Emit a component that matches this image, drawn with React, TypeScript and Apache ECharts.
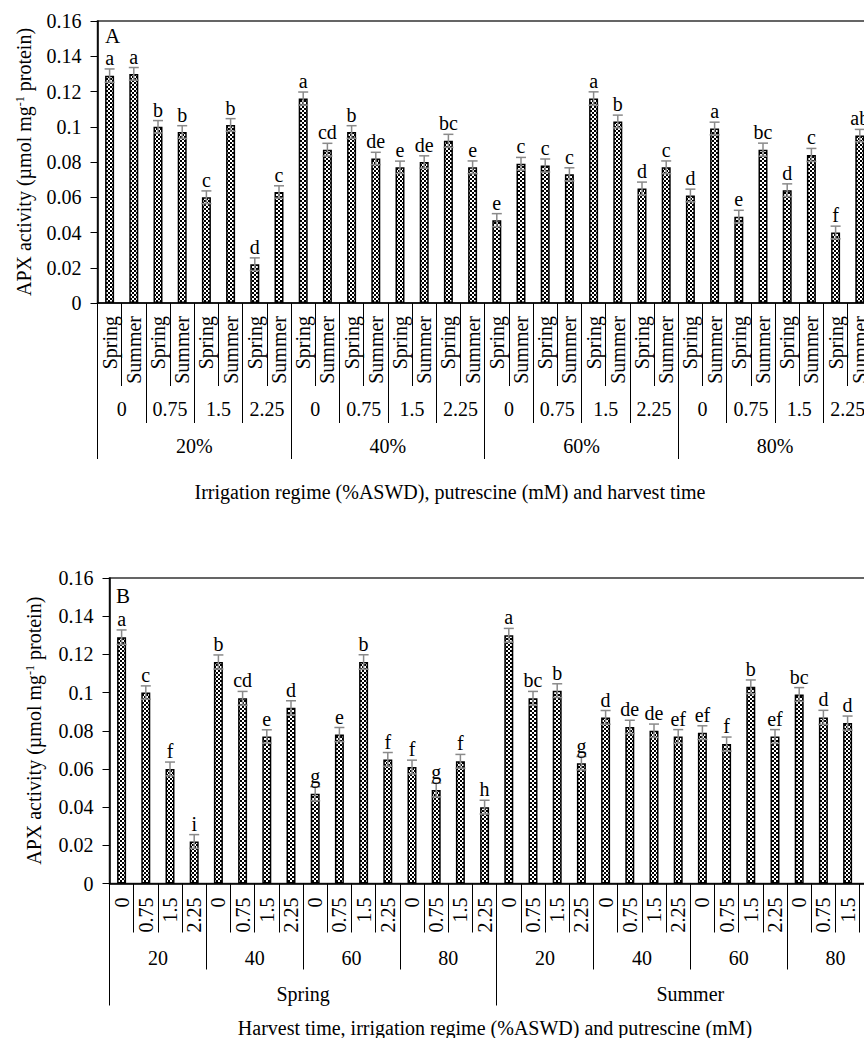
import { useEffect, useRef } from "react";
import * as echarts from "echarts";

const FONT = "Liberation Serif";

const seasons = ["Spring", "Summer"];
const irrigationA = ["20%", "40%", "60%", "80%"];
const irrigationB = ["20", "40", "60", "80"];
const putrescine = ["0", "0.75", "1.5", "2.25"];

// APX activity (µmol mg-1 protein); order: irrigation 20,40,60,80 × putrescine 0,0.75,1.5,2.25
const springAPX = [0.129, 0.1, 0.06, 0.022, 0.116, 0.097, 0.077, 0.092, 0.047, 0.078, 0.116, 0.065, 0.061, 0.049, 0.064, 0.04];
const summerAPX = [0.13, 0.097, 0.101, 0.063, 0.087, 0.082, 0.08, 0.077, 0.079, 0.073, 0.103, 0.077, 0.099, 0.087, 0.084, 0.095];
const springSE = [0.0038, 0.0035, 0.0036, 0.0036, 0.0037, 0.0036, 0.0035, 0.0037, 0.0037, 0.0037, 0.0038, 0.0036, 0.0036, 0.0036, 0.0036, 0.0036];
const summerSE = [0.0036, 0.0036, 0.0036, 0.0035, 0.0036, 0.0035, 0.0035, 0.0036, 0.0036, 0.0037, 0.0036, 0.0036, 0.0036, 0.0037, 0.0037, 0.0035];

const lettersA = ["a", "a", "b", "b", "c", "b", "d", "c", "a", "cd", "b", "de", "e", "de", "bc", "e", "e", "c", "c", "c", "a", "b", "d", "c", "d", "a", "e", "bc", "d", "c", "f", "ab"];
const lettersB = ["a", "c", "f", "i", "b", "cd", "e", "d", "g", "e", "b", "f", "f", "g", "f", "h", "a", "bc", "b", "g", "d", "de", "de", "ef", "ef", "f", "b", "ef", "bc", "d", "d", "c"];

const titleA = "Irrigation regime (%ASWD), putrescine (mM) and harvest time";
const titleB = "Harvest time, irrigation regime (%ASWD) and putrescine (mM)";
const yName = "APX activity (µmol mg{s|-1} protein)";

// Panel A: pairs Spring/Summer within each irrigation × putrescine
const aValues: number[] = [];
const aErr: number[] = [];
const aSeason: string[] = [];
springAPX.forEach((v, k) => {
  aValues.push(v, summerAPX[k]);
  aErr.push(springSE[k], summerSE[k]);
  aSeason.push(seasons[0], seasons[1]);
});
const aPut = irrigationA.flatMap(() => putrescine);

// Panel B: Spring block then Summer block
const bValues = [...springAPX, ...summerAPX];
const bErr = [...springSE, ...summerSE];
const bPut = seasons.flatMap(() => irrigationB.flatMap(() => putrescine));
const bIrr = seasons.flatMap(() => irrigationB);

const BAND = 24.2;

function levelAxis(grid: number, data: string[], tickLen: number, margin: number, rotate: number, showLine: boolean) {
  return {
    type: "category",
    gridIndex: grid,
    position: "bottom",
    data,
    boundaryGap: true,
    axisLine: { show: showLine, onZero: false, lineStyle: { color: "#000", width: 1.5 } },
    axisTick: { show: true, interval: 0, length: tickLen, lineStyle: { color: "#000", width: 1 } },
    axisLabel: { interval: 0, rotate, margin, fontSize: 20, fontFamily: FONT, color: "#000" },
    splitLine: { show: false },
  };
}

function yAxisCfg(grid: number, gap: number) {
  return {
    type: "value",
    gridIndex: grid,
    min: 0,
    max: 0.16,
    interval: 0.02,
    axisLine: { show: true, lineStyle: { color: "#000", width: 1.5 } },
    axisTick: { show: true, length: 7, lineStyle: { color: "#000" } },
    axisLabel: { fontSize: 20, fontFamily: FONT, color: "#000", margin: 16 },
    splitLine: { show: false },
    name: yName,
    nameLocation: "middle",
    nameRotate: 90,
    nameGap: gap,
    nameTextStyle: {
      fontSize: 20,
      fontFamily: FONT,
      color: "#000",
      rich: { s: { fontSize: 12, fontFamily: FONT, color: "#000", verticalAlign: "top" } },
    },
  };
}

function errSeries(xIdx: number, yIdx: number, vals: number[], errs: number[], letters: string[]) {
  return {
    type: "custom",
    xAxisIndex: xIdx,
    yAxisIndex: yIdx,
    z: 5,
    data: vals.map((v, i) => [i, v, errs[i]]),
    encode: { x: 0, y: 1 },
    renderItem: (params: any, api: any) => {
      const i = api.value(0);
      const v = api.value(1);
      const e = api.value(2);
      const t = api.coord([i, v + e]);
      const b = api.coord([i, v - e]);
      const x = t[0];
      const st = { stroke: "#8a8a8a", lineWidth: 1.5 };
      return {
        type: "group",
        children: [
          { type: "line", shape: { x1: x, y1: t[1], x2: x, y2: b[1] }, style: st },
          { type: "line", shape: { x1: x - 5, y1: t[1], x2: x + 5, y2: t[1] }, style: st },
          { type: "line", shape: { x1: x - 5, y1: b[1], x2: x + 5, y2: b[1] }, style: st },
          {
            type: "text",
            x,
            y: t[1] - 1,
            style: {
              text: letters[params.dataIndex],
              textAlign: "center",
              textVerticalAlign: "bottom",
              font: `20px "${FONT}"`,
              fill: "#000",
            },
          },
        ],
      };
    },
  };
}

export default function App() {
  const ref = useRef<HTMLDivElement>(null);
  useEffect(() => {
    if (!ref.current) return;
    const chart = echarts.init(ref.current, null, { renderer: "svg" });
    const c = document.createElement("canvas");
    c.width = 4;
    c.height = 4;
    const ctx = c.getContext("2d")!;
    ctx.fillStyle = "#fff";
    ctx.fillRect(0, 0, 4, 4);
    ctx.fillStyle = "#000";
    ctx.fillRect(0, 0, 2, 2);
    ctx.fillRect(2, 2, 2, 2);
    const pattern: any = { image: c, repeat: "repeat", imageWidth: 4, imageHeight: 4 };

    const barStyle = { color: pattern, borderColor: "#000", borderWidth: 1.5 };

    const option: any = {
      animation: false,
      textStyle: { fontFamily: FONT },
      grid: [
        { left: 97.5, top: 21, width: BAND * 32, height: 282, show: true, borderColor: "#333", borderWidth: 1.5 },
        { left: 109.5, top: 578, width: BAND * 32, height: 305.5, show: true, borderColor: "#333", borderWidth: 1.5 },
      ],
      xAxis: [
        levelAxis(0, aSeason, 83, 13, 90, true),
        levelAxis(0, aPut, 120, 96, 0, false),
        levelAxis(0, irrigationA, 156, 133, 0, false),
        levelAxis(1, bPut, 49, 14, 90, true),
        levelAxis(1, bIrr, 86, 64, 0, false),
        levelAxis(1, seasons, 122, 100, 0, false),
      ],
      yAxis: [yAxisCfg(0, 64), yAxisCfg(1, 66)],
      series: [
        { type: "bar", xAxisIndex: 0, yAxisIndex: 0, data: aValues, barWidth: 9, itemStyle: barStyle, z: 2 },
        errSeries(0, 0, aValues, aErr, lettersA),
        { type: "bar", xAxisIndex: 3, yAxisIndex: 1, data: bValues, barWidth: 9, itemStyle: barStyle, z: 2 },
        errSeries(3, 1, bValues, bErr, lettersB),
      ],
      graphic: [
        { type: "text", x: 105, y: 25, style: { text: "A", font: `21px "${FONT}"`, fill: "#000" } },
        { type: "text", x: 116, y: 585, style: { text: "B", font: `21px "${FONT}"`, fill: "#000" } },
        {
          type: "text",
          x: 450,
          y: 492,
          style: { text: titleA, font: `20px "${FONT}"`, fill: "#000", textAlign: "center", textVerticalAlign: "middle" },
        },
        {
          type: "text",
          x: 495,
          y: 1028,
          style: { text: titleB, font: `20px "${FONT}"`, fill: "#000", textAlign: "center", textVerticalAlign: "middle" },
        },
      ],
    };
    chart.setOption(option);
    return () => chart.dispose();
  }, []);
  return (
    <div style={{ position: "fixed", left: 0, top: 0, width: 864, height: 1038, overflow: "hidden", background: "#fff" }}>
      <div ref={ref} style={{ width: 900, height: 1038 }} />
    </div>
  );
}
